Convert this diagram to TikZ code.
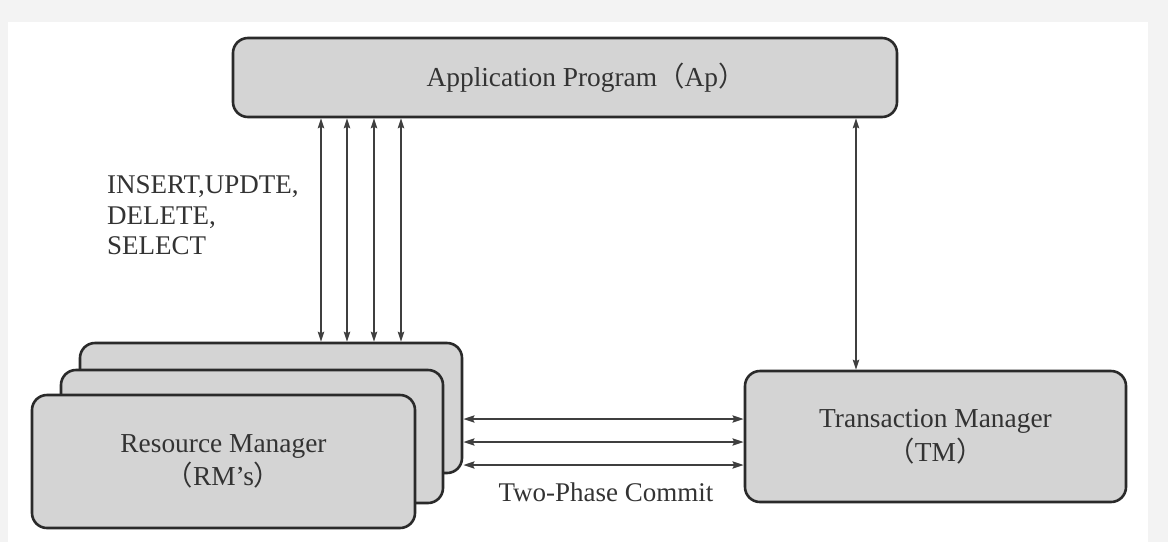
\documentclass[tikz,border=0pt]{standalone}
\usepackage{fontspec}
\setmainfont{Liberation Serif}
\newfontfamily\cjk{Noto Sans CJK SC}
\usetikzlibrary{arrows.meta}
\definecolor{boxfill}{HTML}{D4D4D4}
\definecolor{boxline}{HTML}{2A2A2A}
\definecolor{txt}{HTML}{333333}
\definecolor{bggray}{HTML}{F3F3F3}
\newcommand{\lp}{{\cjk （}}
\newcommand{\rp}{{\cjk ）}}
\tikzset{
  box/.style={draw=boxline, line width=2.6pt, fill=boxfill, rounded corners=15pt,
    inner sep=0pt, text=txt, align=center,
    font=\fontsize{27.4}{33.5}\selectfont},
  lbl/.style={inner sep=0pt, text=txt, font=\fontsize{27}{30.5}\selectfont},
  varr/.style={draw=boxline!90, line width=1.5pt,
    {Stealth[length=10pt,width=6.5pt,inset=1.5pt]}-{Stealth[length=10pt,width=6.5pt,inset=1.5pt]}},
  harr/.style={draw=boxline!90, line width=2.3pt,
    {Stealth[length=11pt,width=7pt,inset=1.5pt]}-{Stealth[length=11pt,width=7pt,inset=1.5pt]}}
}
\begin{document}
\begin{tikzpicture}[x=1pt,y=-1pt]
\fill[bggray] (0,0) rectangle (1168,542);
\fill[white] (8,22) rectangle (1148,542);
\useasboundingbox (0,0) rectangle (1168,542);

\node[box, minimum width=664pt, minimum height=79pt] (AP) at (565,77.5)
  {\hspace*{42pt}Application Program\lp Ap\rp};

\node[box, minimum width=382pt, minimum height=130pt] (RMb) at (271,408) {};
\node[box, minimum width=382pt, minimum height=133pt] (RMm) at (252,436.5) {};
\node[box, minimum width=383pt, minimum height=133pt] (RM) at (223.5,461.5)
  {Resource Manager\\\lp RM’s\rp};

\node[box, minimum width=381pt, minimum height=131pt] (TM) at (935.5,436.5)
  {Transaction Manager\\\lp TM\rp};

\foreach \xx in {321,347,374,401}
  \draw[varr] (AP.south -| \xx,0) -- (RMb.north -| \xx,0);
\draw[varr] (AP.south -| 856,0) -- (TM.north -| 856,0);

\foreach \yy in {419,442,465}
  \draw[harr] (RMb.east |- 0,\yy) -- (TM.west |- 0,\yy);

\node[lbl, anchor=north west, align=left] (ops) at (107,175.5)
  {INSERT,UPDTE,\\DELETE,\\SELECT};
\node[lbl, anchor=base] (tpc) at (606,501) {Two-Phase Commit};
\end{tikzpicture}
\end{document}
